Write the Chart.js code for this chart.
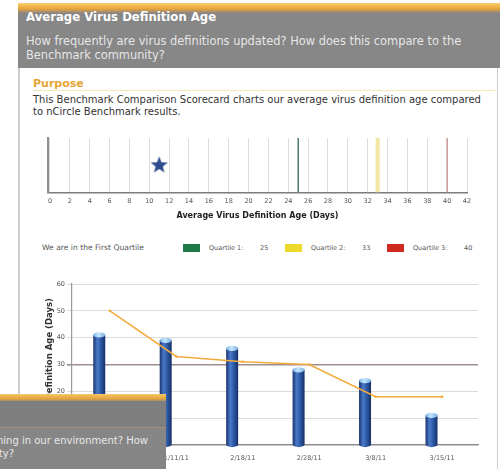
<!DOCTYPE html>
<html lang="en">
<head>
<meta charset="utf-8">
<title>Average Virus Definition Age</title>
<script src="https://cdn.jsdelivr.net/npm/chart.js@4.4.1/dist/chart.umd.min.js"></script>
<style>
  html, body { margin:0; padding:0; }
  body { width:500px; height:469px; overflow:hidden; position:relative; background:#fff;
         font-family:"DejaVu Sans", Verdana, sans-serif; }
  .abs { position:absolute; white-space:nowrap; }
  #frame { left:18px; top:13px; width:480px; height:470px; box-sizing:border-box;
           border-left:2px solid #cdcdcd; border-right:1px solid #cdcdcd; }
  #band { left:18px; top:3px; width:482px; height:10px;
          background:linear-gradient(#f8cf6c, #eaa73a 55%, #b39067 85%, #878787); }
  #head { left:18px; top:13px; width:482px; height:55px; background:#878787; }
  #title { left:26px; top:10px; font-size:11.7px; line-height:14px; font-weight:bold; color:#fff; }
  #sub { left:26px; top:35px; font-size:11.4px; line-height:13.5px; color:#e6e6e6; }
  #purpose { left:33px; top:77px; font-size:11px; line-height:13px; font-weight:bold; color:#e6a536; }
  #rule { left:33px; top:90px; width:462px; height:1px; background:#f4e7b4; }
  #body { left:33px; top:94px; font-size:10px; line-height:11.7px; color:#333; }
  #strip { left:20px; top:128px; }
  #legend { left:0; top:241px; width:500px; height:14px; font-size:6.5px; color:#555; }
  #legend span { position:absolute; top:3px; line-height:8px; }
  #legend span.standing { font-size:7.6px; }
  #legend i { position:absolute; top:3px; width:17px; height:8px; }
  #trend { left:20px; top:272px; }
  #pop { left:0; top:394px; width:166px; height:75px; overflow:hidden; background:#868686; }
  #pop .pband { position:absolute; left:0; top:0; width:166px; height:7px;
                background:linear-gradient(#f6c866, #e4a23c 70%, #a38f74); }
  #pop .ptitle { position:absolute; left:0; top:7px; width:166px; height:26px; background:#7f7f7f;
                 border-bottom:1px solid #a8906c; }
  #pop .pline { position:absolute; font-size:10px; line-height:13px; color:#e8e8e8; white-space:nowrap; }
</style>
</head>
<body>
<div id="frame" class="abs"></div>
<div id="band" class="abs"></div>
<div id="head" class="abs"></div>
<div id="title" class="abs">Average Virus Definition Age</div>
<div id="sub" class="abs">How frequently are virus definitions updated? How does this compare to the<br>Benchmark community?</div>
<div id="purpose" class="abs">Purpose</div>
<div id="rule" class="abs"></div>
<div id="body" class="abs">This Benchmark Comparison Scorecard charts our average virus definition age compared<br>to nCircle Benchmark results.</div>

<canvas id="strip" class="abs" width="476" height="95"></canvas>
<div id="legend" class="abs"></div>
<canvas id="trend" class="abs" width="476" height="207"></canvas>

<div id="pop" class="abs">
  <div class="pband"></div>
  <div class="ptitle"></div>
  <div class="pline" style="right:18px;top:40px;">How many hosts are running in our environment? How</div>
  <div class="pline" style="right:152px;top:53px;">Benchmark community?</div>
</div>

<script>
// ---- Scorecard strip: where our average sits against the benchmark quartiles ----
const scoreTicks = [0, 2, 4, 6, 8, 10, 12, 14, 16, 18, 20, 22, 24, 26, 28, 30, 32, 34, 36, 38, 40, 42];
const quartileNames = ['Quartile 1', 'Quartile 2', 'Quartile 3'];
const quartileAges = [25, 33, 40];
const ourAverageAge = 11;
const standingText = 'We are in the First Quartile';

// ---- Trend: our average definition age per scan vs. the benchmark ----
const scanDates = ['1/7/11', '1/11/11', '2/18/11', '2/28/11', '3/8/11', '3/15/11'];
const averageAge = [41, 39, 36, 28, 24, 11];
const benchmarkAge = [50, 33, 31, 30, 18, 18];
const ageTicks = [0, 10, 20, 30, 40, 50, 60];
const targetAge = 30;
const ageAxisTitle = 'Average Virus Definition Age (Days)';

// Styling
const quartileLineColors = ['#4c7a62', '#f2e6a2', '#c99a98'];
const quartileLineWidths = [1.5, 4, 1.5];
const quartileSwatches = ['#1f7a48', '#ecd92a', '#cf2a22'];
const FONT = '"DejaVu Sans", Verdana, sans-serif';
Chart.defaults.font.family = FONT;

// Filled five-point star used as the marker for our position
function makeStar(r, color) {
  const c = document.createElement('canvas');
  const s = Math.ceil(r * 2 + 2);
  c.width = c.height = s;
  const g = c.getContext('2d');
  g.beginPath();
  for (let k = 0; k < 10; k++) {
    const rad = k % 2 === 0 ? r : r * 0.42;
    const a = -Math.PI / 2 + k * Math.PI / 5;
    g.lineTo(s / 2 + rad * Math.cos(a), s / 2 + rad * Math.sin(a));
  }
  g.closePath();
  g.fillStyle = color;
  g.fill();
  return c;
}

new Chart(document.getElementById('strip'), {
  type: 'scatter',
  data: {
    datasets: [
      { label: 'Our average', data: [{ x: ourAverageAge, y: 0.5 }],
        pointStyle: makeStar(9, '#2f4c8c'), pointRadius: 9, order: -1 },
      ...quartileAges.map((age, i) => ({
        type: 'line', label: quartileNames[i],
        data: [{ x: age, y: 0 }, { x: age, y: 1 }],
        borderColor: quartileLineColors[i], borderWidth: quartileLineWidths[i], pointRadius: 0
      }))
    ]
  },
  options: {
    animation: false, responsive: false, events: [],
    plugins: { legend: { display: false }, tooltip: { enabled: false } },
    layout: { padding: { left: 28, right: 29, top: 10, bottom: 2 } },
    scales: {
      x: {
        type: 'linear', min: -0.2, max: 42,
        afterBuildTicks: s => { s.ticks = scoreTicks.map(v => ({ value: v })); },
        grid: { color: '#dcdcdc', drawTicks: false },
        border: { color: '#7c7c7c', width: 1.5 },
        ticks: { font: { size: 6.5 }, color: '#555', padding: 5, autoSkip: false, maxRotation: 0 },
        title: { display: true, text: 'Average Virus Definition Age (Days)',
                 font: { size: 8, weight: 'bold' }, color: '#222', padding: { top: 1, bottom: 0 } }
      },
      y: {
        min: 0, max: 1, ticks: { display: false }, grid: { display: false },
        border: { color: '#8e8e8e', width: 2 }, afterFit: s => { s.width = 0; }
      }
    }
  }
});

// Legend line under the strip, built from the quartile values
(function buildLegend() {
  const lg = document.getElementById('legend');
  const add = (tag, left, text, bg, cls) => {
    const el = document.createElement(tag);
    el.style.left = left + 'px';
    if (text) el.textContent = text;
    if (bg) el.style.background = bg;
    if (cls) el.className = cls;
    lg.appendChild(el);
  };
  add('span', 42, standingText, null, 'standing');
  const swatchX = [183, 285, 387];
  quartileAges.forEach((age, i) => {
    add('i', swatchX[i], '', quartileSwatches[i]);
    add('span', swatchX[i] + 26, quartileNames[i] + ':');
    add('span', swatchX[i] + 77, String(age));
  });
})();

// Cylinder-style bars: gradient body, rounded base and a light cap
const cylinders = {
  id: 'cylinders',
  afterDatasetDraw(chart, args) {
    if (chart.data.datasets[args.index].type !== 'bar') return;
    const ctx = chart.ctx;
    args.meta.data.forEach(bar => {
      const { x, y, base, width } = bar.getProps(['x', 'y', 'base', 'width'], true);
      const l = x - width / 2, r = x + width / 2, ry = width * 0.22;
      const g = ctx.createLinearGradient(l, 0, r, 0);
      g.addColorStop(0, '#1a3470'); g.addColorStop(0.35, '#4a7ac8');
      g.addColorStop(0.6, '#2f5eab'); g.addColorStop(1, '#152f66');
      ctx.save();
      ctx.fillStyle = g;
      ctx.beginPath();
      ctx.moveTo(l, y); ctx.lineTo(l, base);
      ctx.ellipse(x, base, width / 2, ry, 0, Math.PI, 0, true);
      ctx.lineTo(r, y); ctx.closePath(); ctx.fill();
      const cg = ctx.createLinearGradient(l, 0, r, 0);
      cg.addColorStop(0, '#7fb6ea'); cg.addColorStop(0.45, '#c4e6fb'); cg.addColorStop(1, '#7aaee2');
      ctx.fillStyle = cg;
      ctx.beginPath(); ctx.ellipse(x, y, width / 2, ry, 0, 0, Math.PI * 2); ctx.fill();
      ctx.restore();
    });
  }
};

// Rotated value-axis title, anchored by its top end just under the top of the plot
const ageTitle = {
  id: 'ageTitle',
  afterDraw(chart) {
    const { ctx, chartArea } = chart;
    ctx.save();
    ctx.translate(chartArea.left - 22, chartArea.top + 14);
    ctx.rotate(-Math.PI / 2);
    ctx.font = 'bold 8.5px ' + FONT;
    ctx.fillStyle = '#333';
    ctx.textAlign = 'right';
    ctx.textBaseline = 'middle';
    ctx.fillText(ageAxisTitle, 0, 0);
    ctx.restore();
  }
};

// Scan dates sit on a linear axis; the bars use a twin axis shifted a little to the left
const xMin = -0.57, xMax = 5.54, barShift = 0.16;
new Chart(document.getElementById('trend'), {
  type: 'bar',
  data: {
    datasets: [
      { type: 'line', label: 'Benchmark average',
        data: benchmarkAge.map((v, i) => ({ x: i, y: v })), xAxisID: 'x',
        borderColor: '#f3ab3e', borderWidth: 1.6, pointRadius: 1.3,
        pointBackgroundColor: '#f3ab3e', pointBorderWidth: 0, order: 0 },
      { type: 'bar', label: 'Our average',
        data: averageAge.map((v, i) => ({ x: i, y: v })), xAxisID: 'xb',
        grouped: false, barThickness: 12, backgroundColor: 'rgba(0,0,0,0)', borderWidth: 0, order: 1 }
    ]
  },
  options: {
    animation: false, responsive: false, events: [],
    plugins: { legend: { display: false }, tooltip: { enabled: false } },
    layout: { padding: { left: 22, right: 18, top: 12, bottom: 0 } },
    scales: {
      x: {
        type: 'linear', offset: false, min: xMin, max: xMax,
        afterBuildTicks: s => { s.ticks = scanDates.map((d, i) => ({ value: i })); },
        grid: { display: false, drawTicks: false },
        border: { color: '#8c8c8c', width: 1.2 },
        ticks: { font: { size: 6.5 }, color: '#555', padding: 9, maxRotation: 0, autoSkip: false,
                 callback: v => scanDates[v] },
        title: { display: true, text: 'Average Virus Definition Age by Scan Date',
                 font: { size: 8, weight: 'bold' }, color: '#444', padding: { top: 0, bottom: 0 } },
        afterFit: s => { s.height = 34; }
      },
      xb: {
        type: 'linear', position: 'bottom', offset: false,
        min: xMin + barShift, max: xMax + barShift,
        ticks: { display: false }, grid: { display: false, drawTicks: false }, border: { display: false },
        afterFit: s => { s.height = 0; }
      },
      y: {
        min: 0, max: 60,
        afterBuildTicks: s => { s.ticks = ageTicks.map(v => ({ value: v })); },
        grid: {
          color: c => (c.tick && c.tick.value === targetAge ? '#9e8e8e' : '#dadada'),
          lineWidth: c => (c.tick && c.tick.value === targetAge ? 1.6 : 1),
          tickLength: 5
        },
        border: { color: '#9a9a9a', width: 1.2 },
        ticks: { font: { size: 6.5 }, color: '#555', padding: 2 },
        afterFit: s => { s.width = 30; }
      }
    }
  },
  plugins: [cylinders, ageTitle]
});
</script>
</body>
</html>
